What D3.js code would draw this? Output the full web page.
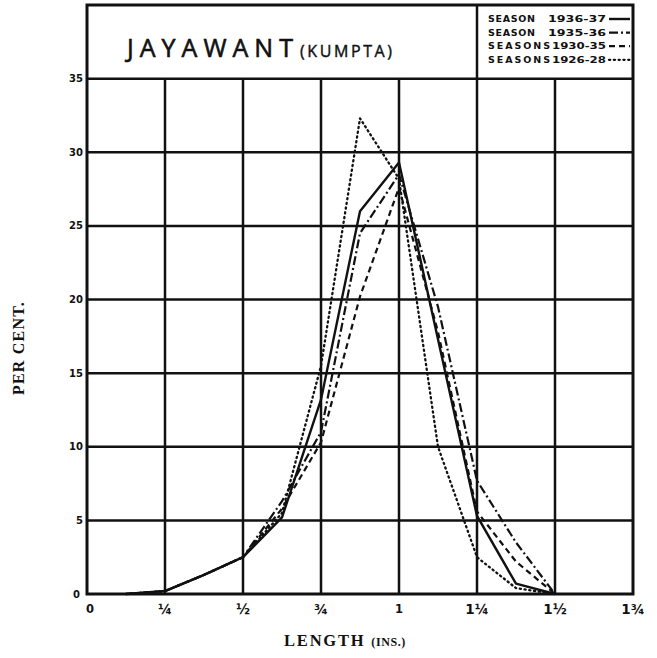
<!DOCTYPE html>
<html><head><meta charset="utf-8">
<script src="https://cdn.jsdelivr.net/npm/d3@7/dist/d3.min.js"></script>
<style>body{margin:0;background:#fff}svg{display:block}</style>
</head><body><svg id="c" width="657" height="658"></svg>
<script>
// ---- data (per cent of fibres by length, inches) ----
const lengths      = [0.125,0.25,0.375,0.5,0.625,0.75,0.875,1,1.125,1.25,1.375,1.5];
const season1936   = [0,0.2,1.3,2.5,5.2,13.2,26,29.3,17.3,5.3,0.7,0];
const season1935   = [0,0.2,1.3,2.5,6.3,11,24.5,28.5,19.5,7.7,3.5,0];
const seasons1930  = [0,0.2,1.3,2.5,5.8,10.3,20.2,27.6,17.8,5.6,2.2,0];
const seasons1926  = [0,0.2,1.3,2.5,5.5,15.5,32.3,28.2,10,2.5,0.4,0];
const seriesNames  = ["SEASON", "SEASON", "SEASONS", "SEASONS"];
const seriesYears  = ["1936-37", "1935-36", "1930-35", "1926-28"];
const xTicks       = [0,0.25,0.5,0.75,1,1.25,1.5,1.75];
const xTickLabels  = ["0","¼","½","¾","1","1¼","1½","1¾"];
const yTicks       = [0,5,10,15,20,25,30,35];
const titleMain    = "JAYAWANT";
const titleSub     = "(KUMPTA)";

const ink = "#111";
const svg = d3.select("#c");
const x = d3.scaleLinear().domain([0,1.75]).range([87,633]);
const y = d3.scaleLinear().domain([0,40]).range([594,5]);

// grid
const g = svg.append("g");
g.selectAll(".h").data(yTicks.filter(d=>d>0)).join("line")
  .attr("x1",x(0)).attr("x2",x(1.75)).attr("y1",d=>y(d)).attr("y2",d=>y(d))
  .attr("stroke",ink).attr("stroke-width",2.5);
g.selectAll(".v").data(xTicks.filter(d=>d>0&&d<1.75)).join("line")
  .attr("x1",d=>x(d)).attr("x2",d=>x(d)).attr("y1",y(0)).attr("y2",d=>d===1.25?y(40):y(35))
  .attr("stroke",ink).attr("stroke-width",2.5);
// frame
g.append("rect").attr("x",x(0)).attr("y",y(40)).attr("width",x(1.75)-x(0)).attr("height",y(0)-y(40))
  .attr("fill","none").attr("stroke",ink).attr("stroke-width",3);

// y ticks
svg.append("g").selectAll("text").data(yTicks).join("text")
  .attr("x",d=>d===0?80:83).attr("y",d=>y(d)).attr("dy","0.35em")
  .attr("text-anchor","end").attr("font-family","DejaVu Sans").attr("font-weight","bold")
  .attr("font-size",10).attr("fill",ink).text(d=>d);
// x ticks
svg.append("g").selectAll("text").data(xTicks).join("text")
  .attr("x",(d,i)=>i===0?x(d)+3:x(d)).attr("y",609).attr("dy","0.35em")
  .attr("text-anchor","middle").attr("font-family","DejaVu Sans").attr("font-weight","bold")
  .attr("font-size",d=>d===0||d===1?11.5:13.5).attr("fill",ink).text((d,i)=>xTickLabels[i]);

// axis titles
svg.append("text").attr("transform","translate(24,348) rotate(-90)")
  .attr("text-anchor","middle").attr("font-family","Liberation Serif").attr("font-weight","bold")
  .attr("font-size",16).attr("fill",ink).attr("letter-spacing",1.2).text("PER CENT.");
const xt = svg.append("text").attr("x",345).attr("y",646).attr("text-anchor","middle")
  .attr("font-family","Liberation Serif").attr("font-weight","bold").attr("fill",ink);
xt.append("tspan").attr("font-size",16.5).attr("letter-spacing",1.8).text("LENGTH ");
xt.append("tspan").attr("font-size",12).attr("letter-spacing",0.6).text("(INS.)");

// title
svg.append("text").attr("x",127).attr("y",57).attr("font-family","Open Sans")
  .attr("font-size",25).attr("fill",ink).attr("stroke",ink).attr("stroke-width",0.6)
  .attr("textLength",166).attr("lengthAdjust","spacing")
  .text(titleMain);
svg.append("text").attr("x",300).attr("y",57).attr("font-family","Open Sans")
  .attr("font-size",16).attr("fill",ink).attr("stroke",ink).attr("stroke-width",0.4)
  .attr("textLength",92).attr("lengthAdjust","spacing")
  .text(titleSub);

// series
const styles = [
  {data:season1936, dash:null, w:2.4},
  {data:season1935, dash:"9,3,2,3", w:2.2},
  {data:seasons1930, dash:"6,4", w:2.2},
  {data:seasons1926, dash:"1.2,3.6", w:2.3}
];
const line = d3.line().x(d=>x(d[0])).y(d=>y(d[1]));
styles.forEach(s=>{
  svg.append("path").datum(lengths.map((l,i)=>[l,s.data[i]]))
    .attr("d",line).attr("fill","none").attr("stroke",ink).attr("stroke-width",s.w)
    .attr("stroke-linecap",s.dash&&s.dash.startsWith("1.2")?"round":"butt")
    .attr("stroke-linejoin","round")
    .attr("stroke-dasharray",s.dash);
});

// legend
const lg = svg.append("g");
styles.forEach((s,i)=>{
  const yy = 22 + i*13.6;
  lg.append("text").attr("x",488).attr("y",yy).attr("font-family","DejaVu Sans").attr("font-weight","bold")
    .attr("font-size",9.5).attr("fill",ink).attr("textLength",i<2?47:62).attr("lengthAdjust","spacing")
    .text(seriesNames[i]);
  lg.append("text").attr("x",i<2?548:552).attr("y",yy).attr("font-family","DejaVu Sans").attr("font-weight","bold")
    .attr("font-size",9).attr("fill",ink).attr("textLength",i<2?58:54).attr("lengthAdjust","spacingAndGlyphs")
    .text(seriesYears[i]);
  lg.append("line").attr("x1",609).attr("x2",630).attr("y1",yy-3).attr("y2",yy-3)
    .attr("stroke",ink).attr("stroke-width",s.w)
    .attr("stroke-linecap",s.dash&&s.dash.startsWith("1.2")?"round":"butt")
    .attr("stroke-dasharray",s.dash);
});
</script>
</body></html>
